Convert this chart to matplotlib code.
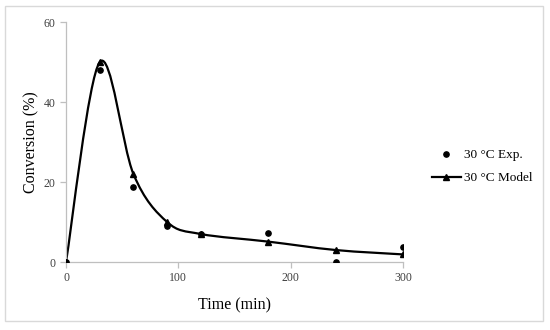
import numpy as np
import matplotlib
matplotlib.use("Agg")
import matplotlib.pyplot as plt
from matplotlib.path import Path
from matplotlib.patches import PathPatch, Rectangle
from matplotlib.lines import Line2D

plt.rcParams['font.family'] = ['Liberation Serif', 'DejaVu Serif']

# Dane
time_exp = [0, 30, 60, 90, 120, 180, 240, 300]
conv_exp = [0, 48, 18.7, 8.9, 7.0, 7.2, 0.1, 3.8]
time_model = [0, 30, 60, 90, 120, 180, 240, 300]
conv_model = [0, 50, 22, 10, 7, 5.1, 3, 1.9]
x_ticks = [0, 100, 200, 300]
y_ticks = [0, 20, 40, 60]

fig = plt.figure(figsize=(5.5, 3.3), dpi=100)
ax = fig.add_axes([0.12, 0.206, 0.613, 0.727])

# wygladzona linia modelu (krzywe Beziera jak w Excelu)
pts = np.column_stack([time_model, conv_model]).astype(float)
n = len(pts)
verts = [pts[0]]
codes = [Path.MOVETO]
for i in range(n - 1):
    p_prev = pts[i - 1] if i > 0 else pts[i]
    p_next2 = pts[i + 2] if i + 2 < n else pts[i + 1]
    c1 = pts[i] + (pts[i + 1] - p_prev) / 6
    c2 = pts[i + 1] - (p_next2 - pts[i]) / 6
    verts += [c1, c2, pts[i + 1]]
    codes += [Path.CURVE4] * 3
ax.add_patch(PathPatch(Path(verts, codes), fill=False, lw=1.6, color='black', zorder=2))
ax.plot(time_model, conv_model, ls='none', marker='^', ms=4.5, color='black', zorder=3)
ax.plot(time_exp, conv_exp, ls='none', marker='o', ms=3.8, color='black', zorder=4)

ax.set_xlim(0, 300)
ax.set_ylim(0, 60)
ax.set_xticks(x_ticks)
ax.set_yticks(y_ticks)
for s in ['top', 'right']:
    ax.spines[s].set_visible(False)
for s in ['left', 'bottom']:
    ax.spines[s].set_color('#bfbfbf')
    ax.spines[s].set_linewidth(0.9)
ax.tick_params(colors='#bfbfbf', labelcolor='#404040', labelsize=8.5, length=4, width=0.9)
ax.set_xlabel('Time (min)', fontsize=11.5, labelpad=9)
ax.set_ylabel('Conversion (%)', fontsize=11.5, labelpad=3)

handles = [Line2D([], [], ls='none', marker='o', ms=3.8, color='black'),
           Line2D([], [], lw=1.6, marker='^', ms=4.5, color='black')]
ax.legend(handles, ['30 \u00b0C Exp.', '30 \u00b0C Model'], loc='upper left',
          bbox_to_anchor=(1.05, 0.52), frameon=False, fontsize=9.5,
          handlelength=2.2, handletextpad=0.2, labelspacing=0.8)

fig.patches.append(Rectangle((5 / 550, 1 - 321 / 330), 538 / 550, 315 / 330,
                             transform=fig.transFigure, fill=False,
                             edgecolor='#d9d9d9', lw=1))

plt.savefig('out.png', dpi=100)
